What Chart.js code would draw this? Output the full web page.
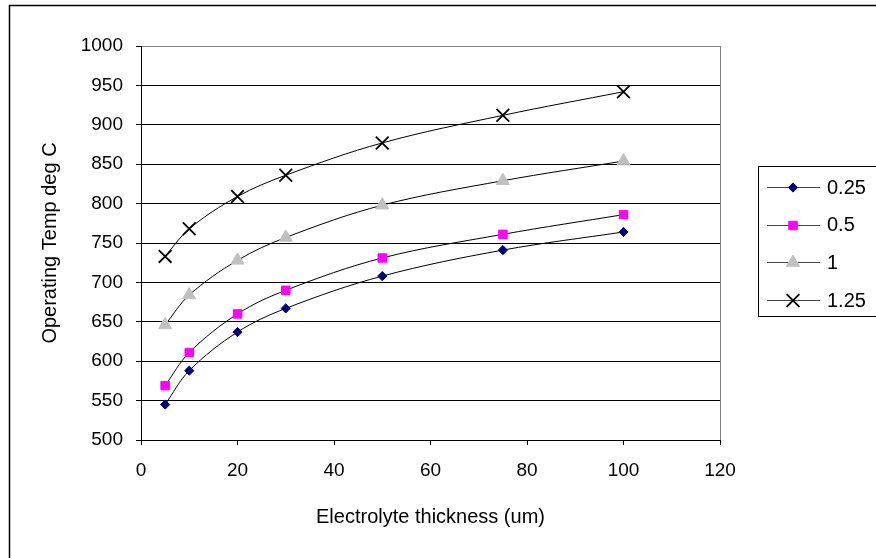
<!DOCTYPE html>
<html lang="en">
<head>
    <meta charset="UTF-8">
    <title>Operating Temp vs Electrolyte thickness</title>
    <style>
        html, body { margin: 0; padding: 0; background: #fff; }
        #wrap { width: 876px; height: 558px; }
    </style>
    <script src="https://cdn.jsdelivr.net/npm/chart.js"></script>
</head>
<body>
    <div id="wrap"><canvas id="chart" width="876" height="558"></canvas></div>
    <script>
        // datos
        const thickness = [5, 10, 20, 30, 50, 75, 100];
        const temp025 = [545, 588, 637, 667, 708, 741, 764];
        const temp05 = [569, 611, 660, 690, 731, 761, 786];
        const temp1 = [646, 684, 728, 757, 798, 829, 854];
        const temp125 = [733, 768, 809, 836, 877, 912, 942];
        const seriesLabels = ['0.25', '0.5', '1', '1.25'];
        const xTicks = [0, 20, 40, 60, 80, 100, 120];
        const yTicks = [500, 550, 600, 650, 700, 750, 800, 850, 900, 950, 1000];

        const FONT = 'Liberation Sans, Arial, sans-serif';

        const toPoints = vals => thickness.map((x, i) => ({ x: x, y: vals[i] }));

        const styles = [
            { pointStyle: 'rectRot', radius: 4.6, fill: '#000080', stroke: '#000080', bw: 1 },
            { pointStyle: 'rect', radius: 6, fill: '#FF00FF', stroke: '#FF00FF', bw: 1 },
            { pointStyle: 'triangle', radius: 7.5, fill: '#C0C0C0', stroke: '#C0C0C0', bw: 1 },
            { pointStyle: 'crossRot', radius: 9, fill: '#000000', stroke: '#000000', bw: 1.8 }
        ];
        const allVals = [temp025, temp05, temp1, temp125];

        const datasets = allVals.map((vals, i) => ({
            label: seriesLabels[i],
            data: toPoints(vals),
            showLine: true,
            borderColor: '#000000',
            borderWidth: 1,
            tension: 0.35,
            pointStyle: styles[i].pointStyle,
            pointRadius: styles[i].radius,
            pointBackgroundColor: styles[i].fill,
            pointBorderColor: styles[i].stroke,
            pointBorderWidth: styles[i].bw
        }));

        // fondo, marco exterior, borde del area y leyenda
        const frame = {
            id: 'frame',
            beforeDraw(chart) {
                const c = chart.ctx;
                c.save();
                c.fillStyle = '#fff';
                c.fillRect(0, 0, chart.width, chart.height);
                c.restore();
            },
            afterDraw(chart) {
                const c = chart.ctx;
                const a = chart.chartArea;
                c.save();
                // marco exterior
                c.strokeStyle = '#000';
                c.lineWidth = 1.5;
                c.beginPath();
                c.moveTo(9.5, chart.height + 2);
                c.lineTo(9.5, 5.5);
                c.lineTo(chart.width + 2, 5.5);
                c.stroke();
                // borde derecho del area
                c.strokeStyle = '#808080';
                c.lineWidth = 1;
                c.beginPath();
                c.moveTo(Math.round(a.right) + 0.5, a.top);
                c.lineTo(Math.round(a.right) + 0.5, a.bottom);
                c.stroke();
                // leyenda
                c.strokeStyle = '#000';
                c.lineWidth = 1;
                c.strokeRect(758.5, 166.5, 140, 150);
                c.font = '20px ' + FONT;
                c.textBaseline = 'middle';
                c.textAlign = 'left';
                chart.data.datasets.forEach((ds, i) => {
                    const y = 187 + i * 37.7;
                    c.strokeStyle = '#444';
                    c.lineWidth = 1;
                    c.beginPath();
                    c.moveTo(767, Math.round(y) + 0.5);
                    c.lineTo(820, Math.round(y) + 0.5);
                    c.stroke();
                    c.fillStyle = ds.pointBackgroundColor;
                    c.strokeStyle = ds.pointBorderColor;
                    c.lineWidth = ds.pointBorderWidth;
                    Chart.helpers.drawPoint(c, {
                        pointStyle: ds.pointStyle,
                        radius: ds.pointRadius,
                        rotation: 0,
                        borderWidth: ds.pointBorderWidth
                    }, 793, Math.round(y) + 0.5);
                    c.fillStyle = '#000';
                    c.fillText(ds.label, 827, y + 1);
                });
                c.restore();
            }
        };

        new Chart(document.getElementById('chart'), {
            type: 'scatter',
            data: { datasets: datasets },
            options: {
                responsive: false,
                animation: false,
                layout: { padding: { left: 0, top: 46, right: 156, bottom: 0 } },
                plugins: {
                    legend: { display: false },
                    tooltip: { enabled: false }
                },
                scales: {
                    x: {
                        type: 'linear',
                        min: 0,
                        max: 120,
                        afterBuildTicks: axis => { axis.ticks = xTicks.map(v => ({ value: v })); },
                        afterFit: axis => { axis.height = 118; },
                        ticks: { color: '#000', font: { family: FONT, size: 19 }, padding: 14, maxRotation: 0 },
                        grid: { display: true, drawOnChartArea: false, color: '#000', tickLength: 5, tickColor: '#000' },
                        border: { display: true, color: '#000', width: 1 },
                        title: {
                            display: true,
                            text: 'Electrolyte thickness (um)',
                            color: '#000',
                            font: { family: FONT, size: 20 },
                            padding: { top: 0, bottom: 29 }
                        }
                    },
                    y: {
                        type: 'linear',
                        min: 500,
                        max: 1000,
                        afterBuildTicks: axis => { axis.ticks = yTicks.map(v => ({ value: v })); },
                        afterFit: axis => { axis.width = 141; },
                        ticks: {
                            color: '#000',
                            font: { family: FONT, size: 19 },
                            padding: 13,
                            callback: v => String(v)
                        },
                        grid: {
                            color: ctx => (ctx.tick && ctx.tick.value === 1000) ? '#808080' : '#000',
                            tickLength: 5,
                            tickColor: '#000'
                        },
                        border: { display: true, color: '#000', width: 1 },
                        title: {
                            display: true,
                            text: 'Operating Temp deg C',
                            color: '#000',
                            font: { family: FONT, size: 20 },
                            padding: { top: 38, bottom: 0 }
                        }
                    }
                }
            },
            plugins: [frame]
        });
    </script>
</body>
</html>
